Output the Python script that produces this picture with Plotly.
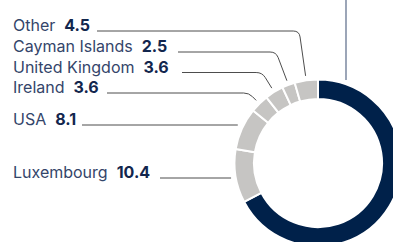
import math
import plotly.graph_objects as go

# ---- data ----
big_label = "Germany"
big_value = 67.3
labels = ["Luxembourg", "USA", "Ireland", "United Kingdom", "Cayman Islands", "Other"]
values = [10.4, 8.1, 3.6, 3.6, 2.5, 4.5]

# ---- layout constants (pixels) ----
W, H = 410, 250
CX, CY, R = 318.0, 163.0, 83.5
HOLE = 0.767
LEAD_R = 88.0
label_x = 12
label_line_y = [178, 125, 93, 72.5, 52, 31]   # baseline / leader y per label
line_start_x = [160, 82, 107, 182, 178, 97]

NAVY = "#00214a"
GRAY = "#c6c5c3"
LINE = "#4d4d4d"
TXT = "#34456a"


def px(x):
    return x / W


def py(y):
    return 1 - y / H


fig = go.Figure()
fig.add_trace(go.Pie(
    labels=[big_label] + labels,
    values=[big_value] + values,
    sort=False,
    direction="clockwise",
    rotation=0,
    hole=HOLE,
    marker=dict(colors=[NAVY] + [GRAY] * len(labels), line=dict(color="white", width=2)),
    textinfo="none",
    hoverinfo="label+value",
    showlegend=False,
    domain=dict(x=[px(CX - R), px(CX + R)], y=[py(CY + R), py(CY - R)]),
))

total = big_value + sum(values)
cum = big_value
shapes = []
annotations = []
for i, (lab, val) in enumerate(zip(labels, values)):
    mid = (cum + val / 2) / total * 2 * math.pi
    cum += val
    dx, dy = math.sin(mid), -math.cos(mid)
    Px, Py = CX + LEAD_R * dx, CY + LEAD_R * dy
    yl = label_line_y[i]
    x0 = line_start_x[i]
    if abs(Py - yl) < 4 or dy >= 0:
        path = f"M{px(x0)},{py(yl)} L{px(Px)},{py(yl)}"
    else:
        t = (yl - Py) / dy
        Cx = Px + t * dx
        rr = min(6.0, t * 0.5)
        ux, uy = -dx, -dy
        ax, ay = Cx + rr * ux, yl + rr * uy
        path = (f"M{px(x0)},{py(yl)} L{px(Cx - rr)},{py(yl)} "
                f"Q{px(Cx)},{py(yl)} {px(ax)},{py(ay)} L{px(Px)},{py(Py)}")
    shapes.append(dict(type="path", path=path, xref="paper", yref="paper",
                       line=dict(color=LINE, width=1)))
    annotations.append(dict(
        x=px(label_x - 1), y=py(yl - 6), xref="paper", yref="paper",
        xanchor="left", yanchor="middle", showarrow=False,
        text=f"{lab}\u00a0\u00a0<b style='color:#12264d'>{val}</b>",
        font=dict(family="Inter", size=16, color=TXT),
    ))

# leader of the big slice (label lies above the visible area)
shapes.append(dict(type="line", xref="paper", yref="paper",
                   x0=px(346), x1=px(346), y0=py(-5), y1=py(80),
                   line=dict(color="#5a6a88", width=1.2)))

fig.update_layout(
    width=W, height=H,
    margin=dict(l=0, r=0, t=0, b=0),
    paper_bgcolor="white", plot_bgcolor="white",
    shapes=shapes, annotations=annotations,
)

fig.write_html("out.html", config={"displayModeBar": False},
               post_script="document.body.style.margin='0';document.body.style.overflow='hidden';")
